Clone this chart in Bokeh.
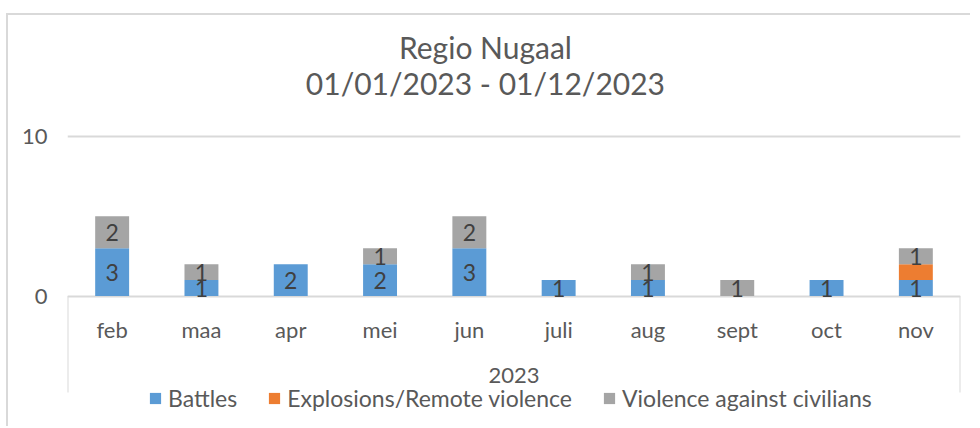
from bokeh.plotting import figure
from bokeh.models import Range1d, FixedTicker, Label, ColumnDataSource
from bokeh.core.properties import value
from bokeh.embed import file_html
from bokeh.resources import INLINE

# ---- data ----
months = ["feb", "maa", "apr", "mei", "jun", "juli", "aug", "sept", "oct", "nov"]
year = "2023"
battles = [3, 1, 2, 2, 3, 1, 1, 0, 1, 1]
explosions = [0, 0, 0, 0, 0, 0, 0, 0, 0, 1]
violence = [2, 1, 0, 1, 2, 0, 1, 1, 0, 1]
series_names = ["Battles", "Explosions/Remote violence", "Violence against civilians"]
y_ticks = [0, 10]
title1 = "Regio Nugaal"
title2 = "01/01/2023 - 01/12/2023"

colors = ["#5B9BD5", "#ED7D31", "#A5A5A5"]
TEXT = "#595959"
LABEL = "#404040"
GRID = "#D9D9D9"
FONT = "Lato"

src = ColumnDataSource(dict(month=months, battles=battles,
                            explosions=explosions, violence=violence))

p = figure(width=964, height=413, x_range=months, y_range=Range1d(-8.30, 17.58),
           output_backend="svg", toolbar_location=None, title=None,
           x_axis_location=None,
           min_border_left=59, min_border_right=12, min_border_top=0, min_border_bottom=0,
           outline_line_color=None,
           styles={"margin-top": "13px", "margin-left": "6px",
                   "border-top": "2px solid #D9D9D9", "border-left": "2px solid #D9D9D9"})

p.vbar_stack(["battles", "explosions", "violence"], x="month", width=0.38,
             color=colors, line_color=None, source=src, legend_label=series_names)

# data labels (Battles and Violence series)
lx, ly, lt = [], [], []
for m, b, e, v in zip(months, battles, explosions, violence):
    if b:
        lx.append(m); ly.append(b / 2); lt.append(str(b))
    if v:
        lx.append(m); ly.append(b + e + v / 2); lt.append(str(v))
p.text(x=lx, y=ly, text=lt, text_font=value(FONT), text_font_size="23px",
       text_color=LABEL, text_align="center", text_baseline="middle")

# category axis labels (month level and year level)
p.text(x=months, y=-2.09, text=months, text_font=value(FONT), text_font_size="22px",
       text_color=TEXT, text_align="center", text_baseline="middle")
p.text(x=[len(months) / 2], y=[-4.97], text=[year], text_font=value(FONT),
       text_font_size="22px", text_color=TEXT, text_align="center",
       text_baseline="middle")
# category box side lines
p.segment(x0=[0, len(months)], y0=[0, 0], x1=[0, len(months)], y1=[-6.04, -6.04],
          line_color=GRID, line_width=2)

# y axis
p.yaxis.ticker = FixedTicker(ticks=y_ticks)
p.yaxis.axis_line_color = None
p.yaxis.major_tick_line_color = None
p.yaxis.minor_tick_line_color = None
p.yaxis.major_tick_out = 0
p.yaxis.major_label_standoff = 20
p.yaxis.major_label_text_font = FONT
p.yaxis.major_label_text_font_size = "22px"
p.yaxis.major_label_text_color = TEXT
p.ygrid.grid_line_color = GRID
p.ygrid.grid_line_width = 2
p.xgrid.visible = False

# title
for txt, yy in ((title1, 15.58), (title2, 13.35)):
    p.add_layout(Label(x=4.68, y=yy, text=txt, text_font=FONT, text_font_size="30px",
                       text_color=TEXT, text_align="center", text_baseline="middle"))

# legend
lg = p.legend[0]
lg.location = (81, 16)
lg.orientation = "horizontal"
lg.label_text_font = FONT
lg.label_text_font_size = "23px"
lg.label_text_color = TEXT
lg.glyph_width = 14
lg.glyph_height = 14
lg.label_standoff = 6
lg.spacing = 30
lg.padding = 0
lg.margin = 0
lg.background_fill_alpha = 0
lg.border_line_color = None

open("out.html", "w").write(file_html(p, INLINE))
